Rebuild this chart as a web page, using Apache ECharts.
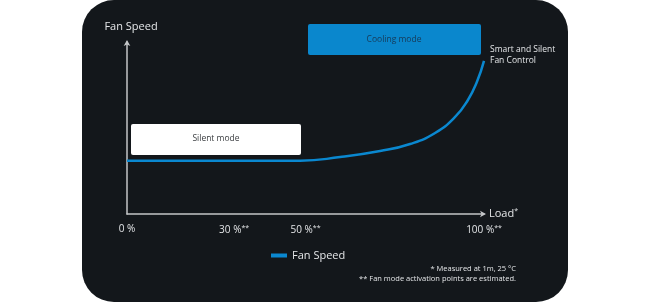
<!DOCTYPE html>
<html>
<head>
<meta charset="utf-8">
<script src="https://cdn.jsdelivr.net/npm/echarts@6/dist/echarts.min.js"></script>
<style>
html,body{margin:0;padding:0;background:#ffffff;}
#c{width:650px;height:302px;}
</style>
</head>
<body>
<div id="c"></div>
<script>
// Data
var loadValues = [0, 30, 48.5, 59.7, 70.9, 79.3, 86.3, 91.9, 95.5, 98, 100];
var fanSpeed   = [31, 31, 31, 33.1, 36.6, 40.7, 47.1, 56.4, 66.3, 76.7, 89];
var tickValues = [0, 30, 50, 100];
var tickLabels = ['0 %', '30 %**', '50 %**', '100 %**'];
var seriesName = 'Fan Speed';
var modeLabels = ['Silent mode', 'Cooling mode'];
var endNote = ['Smart and Silent', 'Fan Control'];
var footnotes = ['* Measured at 1m, 25 °C', '** Fan mode activation points are estimated.'];

var FONT = '"Open Sans", "Noto Sans", sans-serif';
var TXT = '#e4e6e8';
var chart = echarts.init(document.getElementById('c'), null, {renderer: 'canvas'});

var pts = loadValues.map(function (x, i) { return [x, fanSpeed[i]]; });

chart.setOption({
  backgroundColor: '#ffffff',
  animation: false,
  textStyle: {fontFamily: FONT},
  graphic: [
    {type: 'rect', z: -10, silent: true,
     shape: {x: 82, y: 0, width: 486, height: 302, r: 32},
     style: {fill: '#13171b'}},
    {type: 'rect', z: 10, shape: {x: 131, y: 124, width: 170, height: 31, r: 2},
     style: {fill: '#ffffff'}},
    {type: 'text', z: 11, x: 216, y: 139,
     style: {text: modeLabels[0], fill: '#3a3d40', font: '8.5px ' + FONT, align: 'center', verticalAlign: 'middle'}},
    {type: 'rect', z: 10, shape: {x: 308, y: 24, width: 173, height: 31, r: 2},
     style: {fill: '#0a87cd'}},
    {type: 'text', z: 11, x: 394, y: 39.5,
     style: {text: modeLabels[1], fill: '#173a58', font: '8.5px ' + FONT, align: 'center', verticalAlign: 'middle'}},
    {type: 'text', z: 11, x: 490, y: 44,
     style: {text: endNote.join('\n'), fill: TXT, font: '8.5px ' + FONT, lineHeight: 11, align: 'left', verticalAlign: 'top'}},
    {type: 'text', z: 11, x: 516, y: 264,
     style: {text: footnotes.join('\n'), fill: TXT, font: '7.5px ' + FONT, lineHeight: 10, align: 'right', verticalAlign: 'top'}}
  ],
  legend: {
    data: [seriesName],
    left: 266, top: 245,
    icon: 'rect', itemWidth: 16, itemHeight: 4, itemGap: 5,
    textStyle: {color: TXT, fontSize: 11, fontFamily: FONT}
  },
  grid: {left: 127, right: 166, top: 42, bottom: 88, containLabel: false},
  xAxis: {
    type: 'value', min: 0, max: 100, interval: 10,
    name: '{m|Load}{s|*}', nameLocation: 'end', nameGap: 5,
    nameTextStyle: {
      rich: {
        m: {color: TXT, fontSize: 11, fontFamily: FONT},
        s: {color: TXT, fontSize: 7, fontFamily: FONT, padding: [0, 0, 6, 0]}
      }
    },
    axisLine: {show: true, lineStyle: {color: '#c4c6c8', width: 1.5},
               symbol: ['none', 'arrow'], symbolSize: [5, 6], symbolOffset: [0, 2]},
    axisTick: {show: false},
    splitLine: {show: false},
    axisLabel: {
      margin: 10,
      showMinLabel: true, showMaxLabel: true,
      formatter: function (v) {
        var i = tickValues.indexOf(v);
        if (i < 0) return '';
        var parts = tickLabels[i].split('**');
        return '{m|' + parts[0] + '}' + (tickLabels[i].indexOf('**') >= 0 ? '{s|**}' : '');
      },
      rich: {
        m: {color: TXT, fontSize: 10, fontFamily: FONT},
        s: {color: TXT, fontSize: 7, fontFamily: FONT, padding: [0, 0, 5, 0]}
      }
    }
  },
  yAxis: {
    type: 'value', min: 0, max: 100,
    name: 'Fan Speed', nameLocation: 'end', nameGap: 10,
    nameTextStyle: {color: TXT, fontSize: 11, fontFamily: FONT, align: 'center', padding: [0, 0, 0, 8]},
    axisLine: {show: true, lineStyle: {color: '#c4c6c8', width: 1.5},
               symbol: ['none', 'arrow'], symbolSize: [5, 6], symbolOffset: [0, 2]},
    axisTick: {show: false},
    axisLabel: {show: false},
    splitLine: {show: false}
  },
  series: [{
    name: seriesName,
    type: 'line',
    data: pts,
    smooth: 0.5,
    showSymbol: false,
    symbol: 'none',
    clip: false,
    lineStyle: {color: '#0a88d0', width: 2.5},
    itemStyle: {color: '#0a88d0'},
    z: 5
  }]
});
</script>
</body>
</html>
